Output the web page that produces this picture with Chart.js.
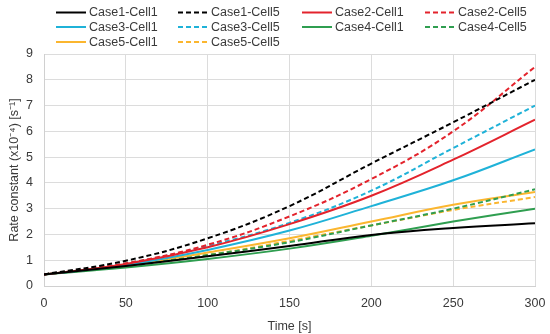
<!DOCTYPE html>
<html>
<head>
<meta charset="utf-8">
<script src="https://cdn.jsdelivr.net/npm/chart.js@4"></script>
<style>
  html, body { margin: 0; padding: 0; background: #fff; }
  #wrap { width: 550px; height: 334px; }
</style>
</head>
<body>
<div id="wrap"><canvas id="rate_chart" width="550" height="334"></canvas></div>
<script>
// Time points [s]
const times = [0, 50, 100, 150, 200, 250, 300]

// Rate constant (x10^-4) [s^-1]
const case1Cell1 = [0.45, 0.78, 1.15, 1.55, 1.98, 2.25, 2.43]
const case1Cell5 = [0.45, 0.98, 1.85, 3.1, 4.75, 6.35, 8.0]
const case2Cell1 = [0.45, 0.85, 1.5, 2.4, 3.5, 4.9, 6.45]
const case2Cell5 = [0.45, 0.88, 1.6, 2.7, 4.15, 6.0, 8.5]
const case3Cell1 = [0.45, 0.82, 1.4, 2.15, 3.1, 4.1, 5.3]
const case3Cell5 = [0.45, 0.87, 1.55, 2.45, 3.7, 5.35, 7.0]
const case4Cell1 = [0.45, 0.72, 1.05, 1.45, 1.95, 2.5, 3.0]
const case4Cell5 = [0.45, 0.78, 1.2, 1.7, 2.35, 3.0, 3.75]
const case5Cell1 = [0.45, 0.8, 1.3, 1.85, 2.5, 3.15, 3.65]
const case5Cell5 = [0.45, 0.78, 1.2, 1.75, 2.35, 2.95, 3.45]

const seriesNames = ["Case1-Cell1", "Case1-Cell5", "Case2-Cell1", "Case2-Cell5",
    "Case3-Cell1", "Case3-Cell5", "Case4-Cell1", "Case4-Cell5",
    "Case5-Cell1", "Case5-Cell5"]
const seriesValues = [case1Cell1, case1Cell5, case2Cell1, case2Cell5,
    case3Cell1, case3Cell5, case4Cell1, case4Cell5,
    case5Cell1, case5Cell5]

const xTicks = [0, 50, 100, 150, 200, 250, 300]
const yTicks = [0, 1, 2, 3, 4, 5, 6, 7, 8, 9]

const caseColors = ['#000000', '#e3232c', '#1fb2d8', '#2f9e50', '#fbb62f']
const FONT = "'Liberation Sans', Arial, sans-serif"
const TEXT = '#3a3a3a'

const datasets = seriesValues.map((vals, i) => {
    const dashed = i % 2 === 1
    return {
        label: seriesNames[i],
        data: vals.map((v, k) => ({x: times[k], y: v})),
        borderColor: caseColors[Math.floor(i / 2)],
        borderWidth: 2,
        borderDash: dashed ? [5, 3] : [],
        pointRadius: 0,
        tension: 0.4,
        fill: false
    }
})

// Four-column legend drawn on top of the canvas
const gridLegend = {
    id: 'gridLegend',
    afterDraw(chart) {
        const ctx = chart.ctx
        const colX = [56, 178, 302, 425]
        const rowY = [12.5, 27, 42]
        ctx.save()
        ctx.font = "12.5px " + FONT
        ctx.textBaseline = 'middle'
        chart.data.datasets.forEach((ds, i) => {
            const x = colX[i % 4]
            const y = rowY[Math.floor(i / 4)]
            ctx.strokeStyle = ds.borderColor
            ctx.lineWidth = 2
            ctx.setLineDash(ds.borderDash)
            ctx.beginPath()
            ctx.moveTo(x, y)
            ctx.lineTo(x + 30, y)
            ctx.stroke()
            ctx.setLineDash([])
            ctx.fillStyle = TEXT
            ctx.fillText(ds.label, x + 33, y + 0.5)
        })
        ctx.restore()
    }
}

const ctx = document.getElementById("rate_chart").getContext("2d")
new Chart(ctx, {
    type: 'line',
    data: {datasets: datasets},
    plugins: [gridLegend],
    options: {
        responsive: false,
        animation: false,
        layout: {padding: {top: 54, right: 15, left: 3, bottom: 0}},
        plugins: {
            legend: {display: false},
            tooltip: {enabled: false}
        },
        scales: {
            x: {
                type: 'linear',
                min: 0,
                max: 300,
                afterBuildTicks: scale => { scale.ticks = xTicks.map(v => ({value: v})) },
                afterFit: scale => {
                    scale.height = 48
                    scale.paddingRight = 0
                    scale.paddingLeft = 0
                },
                grid: {color: '#dcdcdc', drawTicks: false},
                border: {color: '#d0d0d0'},
                ticks: {padding: 10, color: TEXT, font: {family: FONT, size: 12.5}},
                title: {
                    display: true,
                    text: 'Time [s]',
                    color: TEXT,
                    font: {family: FONT, size: 12.5},
                    padding: {top: 2, bottom: 0}
                }
            },
            y: {
                min: 0,
                max: 9,
                afterBuildTicks: scale => { scale.ticks = yTicks.map(v => ({value: v})) },
                afterFit: scale => { scale.width = 41 },
                grid: {color: '#dcdcdc', drawTicks: false},
                border: {color: '#d0d0d0'},
                ticks: {padding: 11, color: TEXT, font: {family: FONT, size: 12.5}},
                title: {
                    display: true,
                    text: 'Rate constant (x10⁻⁴) [s⁻¹]',
                    color: TEXT,
                    font: {family: FONT, size: 12.5},
                    padding: {top: 4, bottom: 0}
                }
            }
        }
    }
})
</script>
</body>
</html>
